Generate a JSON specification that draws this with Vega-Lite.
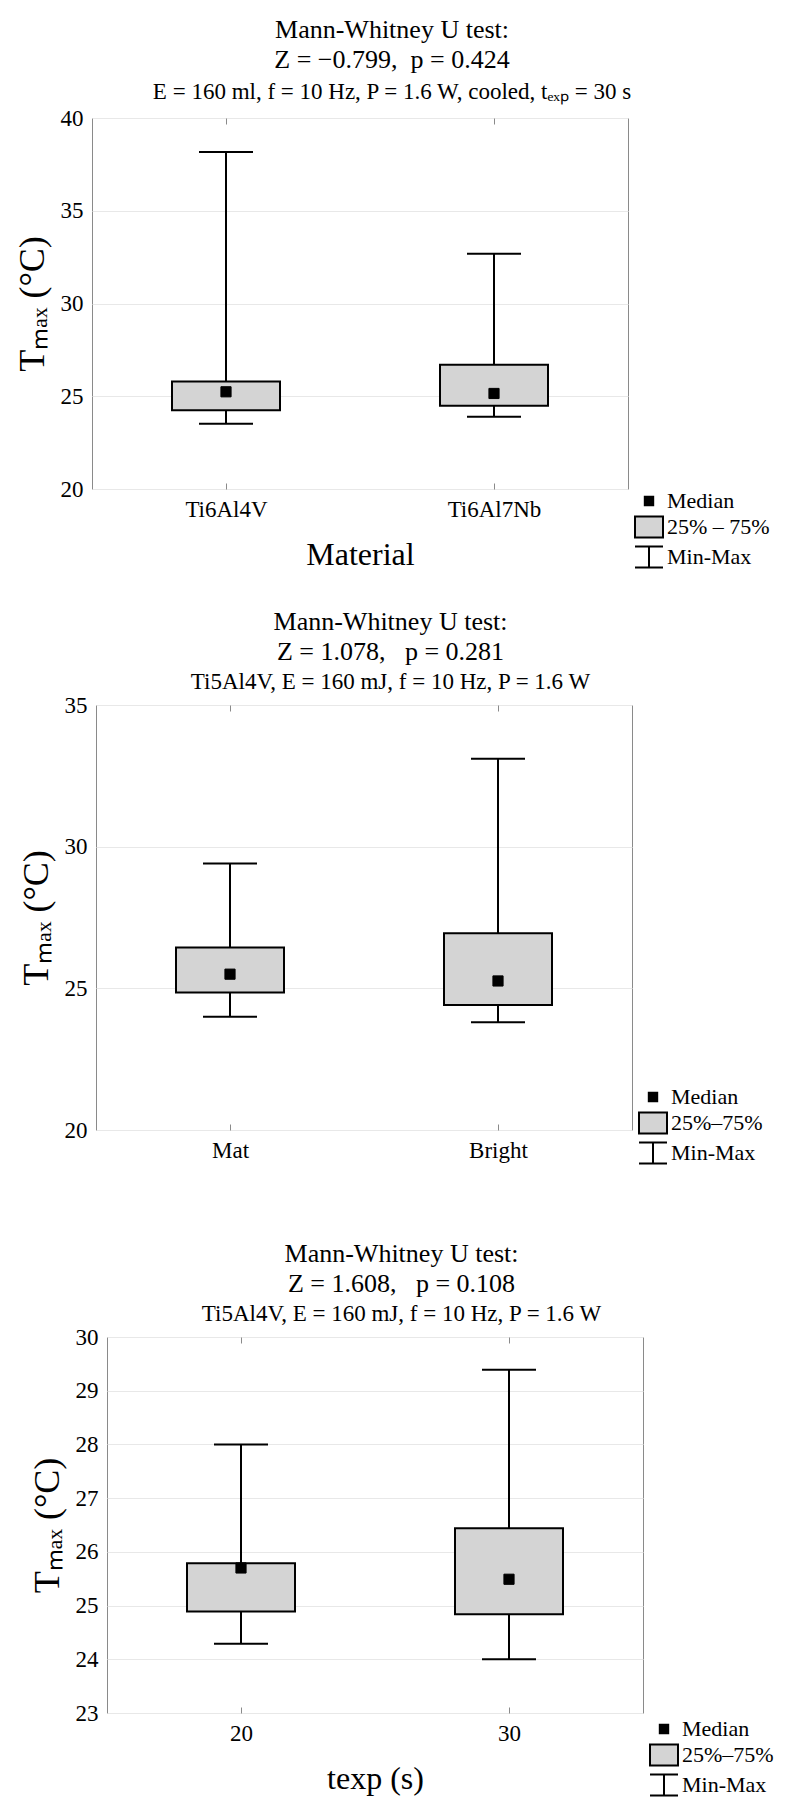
{
  "$schema": "https://vega.github.io/schema/vega-lite/v6.json",
  "background": "white",
  "padding": {"left": 13, "top": 16, "right": 0, "bottom": 0},
  "config": {
    "font": "Liberation Serif",
    "view": {"stroke": "#8a8a8a", "strokeWidth": 1},
    "title": {
      "font": "Liberation Serif", "fontSize": 26, "fontWeight": "normal", "color": "black",
      "lineHeight": 30, "subtitleFont": "Liberation Serif", "subtitleFontSize": 23,
      "subtitleColor": "black", "subtitlePadding": 8, "offset": 3, "frame": "bounds", "anchor": "middle"
    },
    "axis": {
      "labelFont": "Liberation Serif", "labelFontSize": 23, "labelColor": "black",
      "titleFont": "Liberation Serif", "titleFontSize": 32, "titleFontWeight": "normal",
      "titleColor": "black", "domain": false
    },
    "axisX": {"labelAngle": 0, "grid": false, "ticks": true, "tickSize": -6, "tickColor": "#8a8a8a", "labelPadding": 15, "titlePadding": 18},
    "axisY": {"grid": true, "gridColor": "#e8e8e8", "ticks": false, "labelPadding": 9, "titlePadding": 9, "titleFontSize": 36, "format": "d"},
    "legend": {
      "orient": "none", "padding": 0, "labelFont": "Liberation Serif", "labelFontSize": 22,
      "labelColor": "black", "labelOffset": 3, "rowPadding": 0, "symbolSize": 784,
      "symbolStrokeWidth": 2, "symbolStrokeColor": "black", "title": null
    }
  },
  "concat": [
    {
      "concat": [
        {
          "width": 536, "height": 371,
          "title": {"text": ["Mann-Whitney U test:", "Z = −0.799,\u00a0 p = 0.424"], "subtitle": "E = 160 ml, f = 10 Hz, P = 1.6 W, cooled, tₑₓₚ = 30 s"},
          "data": {"values": [
            {"material": "Ti6Al4V", "min": 23.52, "q1": 24.24, "median": 25.24, "q3": 25.8, "max": 38.17},
            {"material": "Ti6Al7Nb", "min": 23.9, "q1": 24.49, "median": 25.15, "q3": 26.7, "max": 32.68}
          ]},
          "encoding": {
            "x": {"field": "material", "type": "nominal", "sort": null, "scale": {"type": "point", "padding": 0.5}, "axis": {"title": "Material"}}
          },
          "layer": [
            {"mark": {"type": "rule", "color": "black", "strokeWidth": 2},
             "encoding": {
               "x": {"field": "material", "type": "nominal", "sort": null, "scale": {"type": "point", "padding": 0.5}, "axis": {"orient": "top", "labels": false, "title": null}},
               "y": {"field": "min", "type": "quantitative", "scale": {"domain": [20, 40], "nice": false, "zero": false}, "axis": {"values": [20, 25, 30, 35, 40], "title": "Tₘₐₓ (°C)"}},
               "y2": {"field": "max"}}},
            {"layer": [
              {"mark": {"type": "tick", "color": "black", "size": 54, "thickness": 2, "opacity": 1},
               "encoding": {"y": {"field": "min", "type": "quantitative"}}},
              {"mark": {"type": "tick", "color": "black", "size": 54, "thickness": 2, "opacity": 1},
               "encoding": {"y": {"field": "max", "type": "quantitative"}}},
              {"mark": {"type": "bar", "width": 108, "fill": "#d4d4d4", "stroke": "black", "strokeWidth": 2},
               "encoding": {"y": {"field": "q1", "type": "quantitative"}, "y2": {"field": "q3"}}},
              {"mark": {"type": "point", "filled": true, "size": 1150, "opacity": 1, "strokeWidth": 1},
               "encoding": {
                 "y": {"field": "median", "type": "quantitative"},
                 "shape": {"datum": "Median", "type": "nominal",
                   "scale": {"domain": ["Median", "25% – 75%", "Min-Max"], "range": ["M-0.3,-0.3H0.3V0.3H-0.3Z", "M-1,-0.75H1V0.75H-1Z", "M-1,-0.75H1M0,-0.75V0.75M-1,0.75H1"]},
                   "legend": {"orient": "none", "legendX": 542, "legendY": 368, "encode": {"symbols": {"stroke": {"value": "black"}, "strokeWidth": {"value": 2}, "size": {"value": 784}, "opacity": {"value": 1}}}}},
                 "fill": {"datum": "Median", "type": "nominal",
                   "scale": {"domain": ["Median", "25% – 75%", "Min-Max"], "range": ["black", "#d4d4d4", "transparent"]},
                   "legend": {"orient": "none", "legendX": 542, "legendY": 368, "encode": {"symbols": {"stroke": {"value": "black"}, "strokeWidth": {"value": 2}, "size": {"value": 784}, "opacity": {"value": 1}}}}},
                 "stroke": {"datum": "Median", "type": "nominal",
                   "scale": {"domain": ["Median", "25% – 75%", "Min-Max"], "range": ["black", "black", "black"]},
                   "legend": {"orient": "none", "legendX": 542, "legendY": 368, "encode": {"symbols": {"stroke": {"value": "black"}, "strokeWidth": {"value": 2}, "size": {"value": 784}, "opacity": {"value": 1}}}}}
               }}
            ]}
          ],
          "resolve": {"axis": {"x": "independent"}}
        },
        {
          "concat": [
            {"width": 1, "height": 1, "data": {"values": []}, "mark": "point", "view": {"stroke": null}},
            {
              "width": 536, "height": 425,
              "title": {"text": ["Mann-Whitney U test:", "Z = 1.078,\u00a0\u00a0 p = 0.281"], "subtitle": "Ti5Al4V, E = 160 mJ, f = 10 Hz, P = 1.6 W", "offset": 0, "subtitlePadding": 6},
              "data": {"values": [
                {"surface": "Mat", "min": 24.0, "q1": 24.85, "median": 25.5, "q3": 26.44, "max": 29.41},
                {"surface": "Bright", "min": 23.8, "q1": 24.41, "median": 25.26, "q3": 26.94, "max": 33.1}
              ]},
              "encoding": {
                "x": {"field": "surface", "type": "nominal", "sort": null, "scale": {"type": "point", "padding": 0.5}, "axis": {"title": null}}
              },
              "layer": [
                {"mark": {"type": "rule", "color": "black", "strokeWidth": 2},
                 "encoding": {
                   "x": {"field": "surface", "type": "nominal", "sort": null, "scale": {"type": "point", "padding": 0.5}, "axis": {"orient": "top", "labels": false, "title": null}},
                   "y": {"field": "min", "type": "quantitative", "scale": {"domain": [20, 35], "nice": false, "zero": false}, "axis": {"values": [20, 25, 30, 35], "title": "Tₘₐₓ (°C)"}},
                   "y2": {"field": "max"}}},
                {"layer": [
                  {"mark": {"type": "tick", "color": "black", "size": 54, "thickness": 2, "opacity": 1},
                   "encoding": {"y": {"field": "min", "type": "quantitative"}}},
                  {"mark": {"type": "tick", "color": "black", "size": 54, "thickness": 2, "opacity": 1},
                   "encoding": {"y": {"field": "max", "type": "quantitative"}}},
                  {"mark": {"type": "bar", "width": 108, "fill": "#d4d4d4", "stroke": "black", "strokeWidth": 2},
                   "encoding": {"y": {"field": "q1", "type": "quantitative"}, "y2": {"field": "q3"}}},
                  {"mark": {"type": "point", "filled": true, "size": 1150, "opacity": 1, "strokeWidth": 1},
                   "encoding": {
                     "y": {"field": "median", "type": "quantitative"},
                     "shape": {"datum": "Median", "type": "nominal",
                       "scale": {"domain": ["Median", "25%–75%", "Min-Max"], "range": ["M-0.3,-0.3H0.3V0.3H-0.3Z", "M-1,-0.75H1V0.75H-1Z", "M-1,-0.75H1M0,-0.75V0.75M-1,0.75H1"]},
                       "legend": {"orient": "none", "legendX": 542, "legendY": 377, "encode": {"symbols": {"stroke": {"value": "black"}, "strokeWidth": {"value": 2}, "size": {"value": 784}, "opacity": {"value": 1}}}}},
                     "fill": {"datum": "Median", "type": "nominal",
                       "scale": {"domain": ["Median", "25%–75%", "Min-Max"], "range": ["black", "#d4d4d4", "transparent"]},
                       "legend": {"orient": "none", "legendX": 542, "legendY": 377, "encode": {"symbols": {"stroke": {"value": "black"}, "strokeWidth": {"value": 2}, "size": {"value": 784}, "opacity": {"value": 1}}}}},
                     "stroke": {"datum": "Median", "type": "nominal",
                       "scale": {"domain": ["Median", "25%–75%", "Min-Max"], "range": ["black", "black", "black"]},
                       "legend": {"orient": "none", "legendX": 542, "legendY": 377, "encode": {"symbols": {"stroke": {"value": "black"}, "strokeWidth": {"value": 2}, "size": {"value": 784}, "opacity": {"value": 1}}}}}
                   }}
                ]}
              ],
              "resolve": {"axis": {"x": "independent"}}
            }
          ],
          "columns": 2, "bounds": "flush", "spacing": 3,
          "resolve": {"scale": {"shape": "independent", "fill": "independent", "stroke": "independent"}}
        }
      ],
      "columns": 1, "spacing": 35,
      "resolve": {"scale": {"shape": "independent", "fill": "independent", "stroke": "independent"}}
    },
    {
      "concat": [
        {"width": 1, "height": 1, "data": {"values": []}, "mark": "point", "view": {"stroke": null}},
        {
          "width": 536, "height": 376,
          "title": {"text": ["Mann-Whitney U test:", "Z = 1.608,\u00a0\u00a0 p = 0.108"], "subtitle": "Ti5Al4V, E = 160 mJ, f = 10 Hz, P = 1.6 W", "offset": 0, "subtitlePadding": 6},
          "data": {"values": [
            {"texp": "20", "min": 24.29, "q1": 24.89, "median": 25.7, "q3": 25.79, "max": 28.0},
            {"texp": "30", "min": 24.0, "q1": 24.84, "median": 25.49, "q3": 26.44, "max": 29.39}
          ]},
          "encoding": {
            "x": {"field": "texp", "type": "nominal", "sort": null, "scale": {"type": "point", "padding": 0.5}, "axis": {"title": "texp (s)"}}
          },
          "layer": [
            {"mark": {"type": "rule", "color": "black", "strokeWidth": 2},
             "encoding": {
               "x": {"field": "texp", "type": "nominal", "sort": null, "scale": {"type": "point", "padding": 0.5}, "axis": {"orient": "top", "labels": false, "title": null}},
               "y": {"field": "min", "type": "quantitative", "scale": {"domain": [23, 30], "nice": false, "zero": false}, "axis": {"values": [23, 24, 25, 26, 27, 28, 29, 30], "title": "Tₘₐₓ (°C)"}},
               "y2": {"field": "max"}}},
            {"layer": [
              {"mark": {"type": "tick", "color": "black", "size": 54, "thickness": 2, "opacity": 1},
               "encoding": {"y": {"field": "min", "type": "quantitative"}}},
              {"mark": {"type": "tick", "color": "black", "size": 54, "thickness": 2, "opacity": 1},
               "encoding": {"y": {"field": "max", "type": "quantitative"}}},
              {"mark": {"type": "bar", "width": 108, "fill": "#d4d4d4", "stroke": "black", "strokeWidth": 2},
               "encoding": {"y": {"field": "q1", "type": "quantitative"}, "y2": {"field": "q3"}}},
              {"mark": {"type": "point", "filled": true, "size": 1150, "opacity": 1, "strokeWidth": 1},
               "encoding": {
                 "y": {"field": "median", "type": "quantitative"},
                 "shape": {"datum": "Median", "type": "nominal",
                   "scale": {"domain": ["Median", "25%–75%", "Min-Max"], "range": ["M-0.3,-0.3H0.3V0.3H-0.3Z", "M-1,-0.75H1V0.75H-1Z", "M-1,-0.75H1M0,-0.75V0.75M-1,0.75H1"]},
                   "legend": {"orient": "none", "legendX": 542, "legendY": 377, "encode": {"symbols": {"stroke": {"value": "black"}, "strokeWidth": {"value": 2}, "size": {"value": 784}, "opacity": {"value": 1}}}}},
                 "fill": {"datum": "Median", "type": "nominal",
                   "scale": {"domain": ["Median", "25%–75%", "Min-Max"], "range": ["black", "#d4d4d4", "transparent"]},
                   "legend": {"orient": "none", "legendX": 542, "legendY": 377, "encode": {"symbols": {"stroke": {"value": "black"}, "strokeWidth": {"value": 2}, "size": {"value": 784}, "opacity": {"value": 1}}}}},
                 "stroke": {"datum": "Median", "type": "nominal",
                   "scale": {"domain": ["Median", "25%–75%", "Min-Max"], "range": ["black", "black", "black"]},
                   "legend": {"orient": "none", "legendX": 542, "legendY": 377, "encode": {"symbols": {"stroke": {"value": "black"}, "strokeWidth": {"value": 2}, "size": {"value": 784}, "opacity": {"value": 1}}}}}
               }}
            ]}
          ],
          "resolve": {"axis": {"x": "independent"}}
        }
      ],
      "columns": 2, "bounds": "flush", "spacing": 14,
      "resolve": {"scale": {"shape": "independent", "fill": "independent", "stroke": "independent"}}
    }
  ],
  "columns": 1, "spacing": 71,
  "resolve": {"scale": {"shape": "independent", "fill": "independent", "stroke": "independent"}}
}
